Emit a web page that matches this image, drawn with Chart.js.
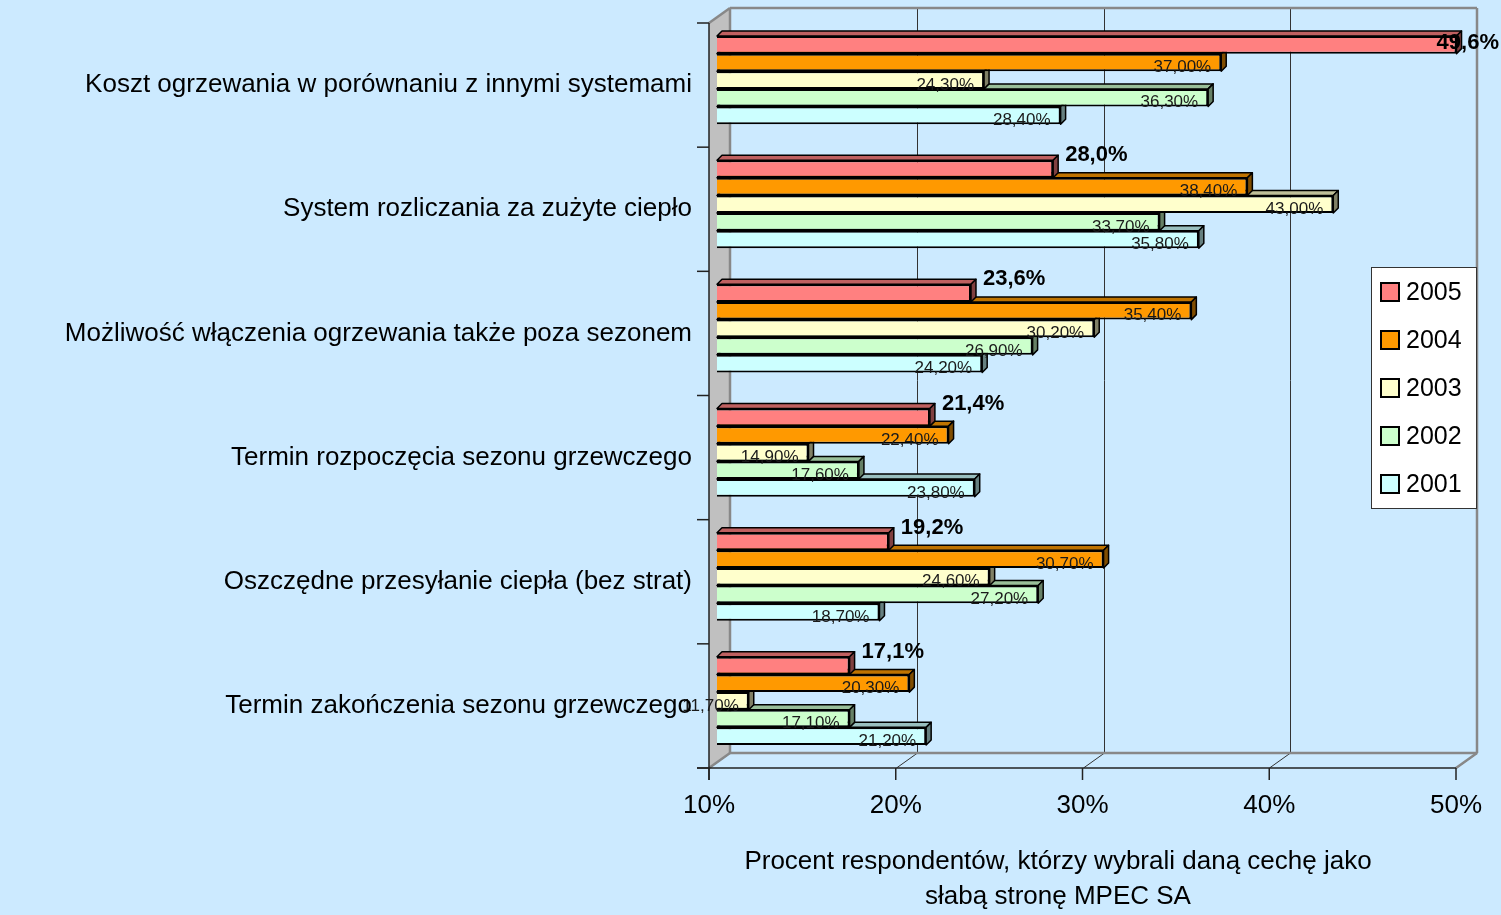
<!DOCTYPE html>
<html lang="pl">
<head>
<meta charset="utf-8">
<title>Słabe strony MPEC SA</title>
<script src="https://cdn.jsdelivr.net/npm/chart.js@4.4.1/dist/chart.umd.min.js"></script>
<style>
  html, body { margin: 0; padding: 0; background: #cceaff; }
  #myChart { display: block; }
</style>
</head>
<body>
<canvas id="myChart" width="1501" height="915"></canvas>
<script>
// data
const gCategories = [
  'Koszt ogrzewania w porównaniu z innymi systemami',
  'System rozliczania za zużyte ciepło',
  'Możliwość włączenia ogrzewania także poza sezonem',
  'Termin rozpoczęcia sezonu grzewczego',
  'Oszczędne przesyłanie ciepła (bez strat)',
  'Termin zakończenia sezonu grzewczego'
]
const gSeriesLabels = ['2005', '2004', '2003', '2002', '2001']
const gValues2005 = [49.6, 28.0, 23.6, 21.4, 19.2, 17.1]
const gValues2004 = [37.0, 38.4, 35.4, 22.4, 30.7, 20.3]
const gValues2003 = [24.3, 43.0, 30.2, 14.9, 24.6, 11.7]
const gValues2002 = [36.3, 33.7, 26.9, 17.6, 27.2, 17.1]
const gValues2001 = [28.4, 35.8, 24.2, 23.8, 18.7, 21.2]
const gTickValues = [10, 20, 30, 40, 50]
const gAxisTitle = ['Procent respondentów, którzy wybrali daną cechę jako', 'słabą stronę MPEC SA']

const gColors = ['#ff8080', '#ff9900', '#ffffcc', '#ccffcc', '#ccffff']

// 3d offsets
const FRONT_DX = -8, FRONT_DY = 5     // front plane vs. bar plane
const DEPTH_X = 21, DEPTH_Y = -15     // back wall vs. front plane
const BAR_DEPTH = 5

function shade(hex, f) {
  const n = parseInt(hex.slice(1), 16)
  const r = Math.round(((n >> 16) & 255) * f)
  const g = Math.round(((n >> 8) & 255) * f)
  const b = Math.round((n & 255) * f)
  return `rgb(${r},${g},${b})`
}

function poly(ctx, pts) {
  ctx.beginPath()
  ctx.moveTo(pts[0][0], pts[0][1])
  for (let i = 1; i < pts.length; i++) ctx.lineTo(pts[i][0], pts[i][1])
  ctx.closePath()
}

function line(ctx, x1, y1, x2, y2) {
  ctx.beginPath()
  ctx.moveTo(x1, y1)
  ctx.lineTo(x2, y2)
  ctx.stroke()
}

const boxPlugin = {
  id: 'box3d',
  beforeDatasetsDraw(chart) {
    const { ctx, chartArea: a, scales: { x, y } } = chart
    const fl = a.left + FRONT_DX, fr = a.right + FRONT_DX
    const ft = a.top + FRONT_DY, fb = a.bottom + FRONT_DY
    const bl = fl + DEPTH_X, br = fr + DEPTH_X
    const bt = ft + DEPTH_Y, bb = fb + DEPTH_Y
    ctx.save()

    // left wall
    ctx.fillStyle = '#c0c0c0'
    poly(ctx, [[fl, ft], [bl, bt], [bl, bb], [fl, fb]])
    ctx.fill()

    // grid lines on the back wall + floor diagonals
    ctx.strokeStyle = '#333'
    ctx.lineWidth = 1
    gTickValues.forEach(v => {
      const px = Math.round(x.getPixelForValue(v) + FRONT_DX) + 0.5
      line(ctx, px + DEPTH_X, bt, px + DEPTH_X, bb)
      line(ctx, px, fb, px + DEPTH_X, bb)
    })

    // wall borders
    ctx.strokeStyle = '#888'
    ctx.lineWidth = 2.5
    line(ctx, fl, ft, bl, bt)
    line(ctx, bl, bt, br, bt)
    line(ctx, br, bt, br, bb)
    line(ctx, bl, bt, bl, bb)
    line(ctx, bl, bb, br, bb)
    line(ctx, fl, fb, bl, bb)
    line(ctx, fr, fb, br, bb)

    // front axes
    ctx.strokeStyle = '#222'
    ctx.lineWidth = 1.5
    line(ctx, fl, ft, fl, fb + 12)
    line(ctx, fl - 12, fb, fr, fb)
    const bandH = (a.bottom - a.top) / gCategories.length
    for (let i = 0; i <= gCategories.length; i++) {
      const ty = (i < gCategories.length ? y.getPixelForTick(i) - bandH / 2 : a.bottom) + FRONT_DY
      line(ctx, fl - 12, ty, fl, ty)
    }
    gTickValues.forEach(v => {
      const px = x.getPixelForValue(v) + FRONT_DX
      line(ctx, px, fb, px, fb + 12)
    })
    ctx.restore()
  },
  beforeDatasetDraw(chart, args) {
    const { ctx, chartArea: a } = chart
    const color = gColors[args.index]
    ctx.save()
    ctx.strokeStyle = '#000'
    ctx.lineWidth = 1.5
    ctx.lineJoin = 'round'
    args.meta.data.forEach(bar => {
      const left = Math.max(bar.base, a.left), right = bar.x
      const top = bar.y - bar.height / 2, bottom = bar.y + bar.height / 2
      const d = BAR_DEPTH
      ctx.fillStyle = shade(color, 0.75)
      poly(ctx, [[left, top], [left + d, top - d], [right + d, top - d], [right, top]])
      ctx.fill(); ctx.stroke()
      ctx.fillStyle = shade(color, 0.5)
      poly(ctx, [[right, top], [right + d, top - d], [right + d, bottom - d], [right, bottom]])
      ctx.fill(); ctx.stroke()
    })
    ctx.restore()
  },
  afterDatasetsDraw(chart) {
    const { ctx, scales: { x, y } } = chart
    ctx.save()
    ctx.fillStyle = '#000'

    // value labels
    chart.data.datasets.forEach((ds, di) => {
      const meta = chart.getDatasetMeta(di)
      meta.data.forEach((bar, i) => {
        const v = ds.data[i]
        const top = bar.y - bar.height / 2
        if (di === 0) {
          const txt = v.toFixed(1).replace('.', ',') + '%'
          ctx.font = 'bold 22px "Liberation Sans", Arial, sans-serif'
          ctx.textAlign = 'left'
          ctx.textBaseline = 'middle'
          const w = ctx.measureText(txt).width
          let lx = bar.x + 12, ly = top - 5
          if (lx + w > 1499) { lx = 1499 - w; ly = bar.y - 2 }
          ctx.fillText(txt, lx, ly)
        } else {
          const txt = v.toFixed(2).replace('.', ',') + '%'
          ctx.font = '17px "Liberation Sans", Arial, sans-serif'
          ctx.fillStyle = '#1a1a1a'
          ctx.textAlign = 'right'
          ctx.textBaseline = 'middle'
          ctx.fillText(txt, bar.x - 10, bar.y + 5)
          ctx.fillStyle = '#000'
        }
      })
    })

    // category labels
    ctx.font = '26px "Liberation Sans", Arial, sans-serif'
    ctx.textAlign = 'right'
    ctx.textBaseline = 'middle'
    gCategories.forEach((c, i) => {
      ctx.fillText(c, 692, y.getPixelForTick(i) + FRONT_DY)
    })

    // x tick labels
    ctx.font = '26px "Liberation Sans", Arial, sans-serif'
    ctx.textAlign = 'center'
    gTickValues.forEach(v => {
      ctx.fillText(v + '%', x.getPixelForValue(v) + FRONT_DX, 806)
    })

    // axis title
    ctx.font = '26px "Liberation Sans", Arial, sans-serif'
    ctx.fillText(gAxisTitle[0], 1058, 862)
    ctx.fillText(gAxisTitle[1], 1058, 897)

    // legend
    ctx.fillStyle = '#fff'
    ctx.fillRect(1371, 267, 106, 242)
    ctx.strokeStyle = '#333'
    ctx.lineWidth = 1
    ctx.strokeRect(1371.5, 267.5, 105, 241)
    ctx.font = '25px "Liberation Sans", Arial, sans-serif'
    ctx.textAlign = 'left'
    chart.data.datasets.forEach((ds, i) => {
      const ly = 292 + i * 48
      ctx.fillStyle = ds.backgroundColor
      ctx.fillRect(1381, ly - 9, 18, 18)
      ctx.strokeStyle = '#000'
      ctx.lineWidth = 2
      ctx.strokeRect(1381, ly - 9, 18, 18)
      ctx.fillStyle = '#000'
      ctx.fillText(ds.label, 1406, ly + 1)
    })
    ctx.restore()
  }
}

function displayChart() {
  const ctx = document.getElementById('myChart').getContext('2d')
  const seriesValues = [gValues2005, gValues2004, gValues2003, gValues2002, gValues2001]
  new Chart(ctx, {
    type: 'bar',
    data: {
      labels: gCategories,
      datasets: gSeriesLabels.map((label, i) => ({
        label: label,
        data: seriesValues[i],
        backgroundColor: gColors[i],
        borderColor: '#000',
        borderWidth: 2,
        borderSkipped: false,
        categoryPercentage: 0.71,
        barPercentage: 1
      }))
    },
    options: {
      responsive: false,
      animation: false,
      indexAxis: 'y',
      layout: { padding: { left: 717, right: 37, top: 18, bottom: 152 } },
      scales: {
        x: { min: 10, max: 50, display: false },
        y: { display: false }
      },
      plugins: {
        legend: { display: false },
        tooltip: { enabled: false }
      }
    },
    plugins: [boxPlugin]
  })
}

displayChart()
</script>
</body>
</html>
